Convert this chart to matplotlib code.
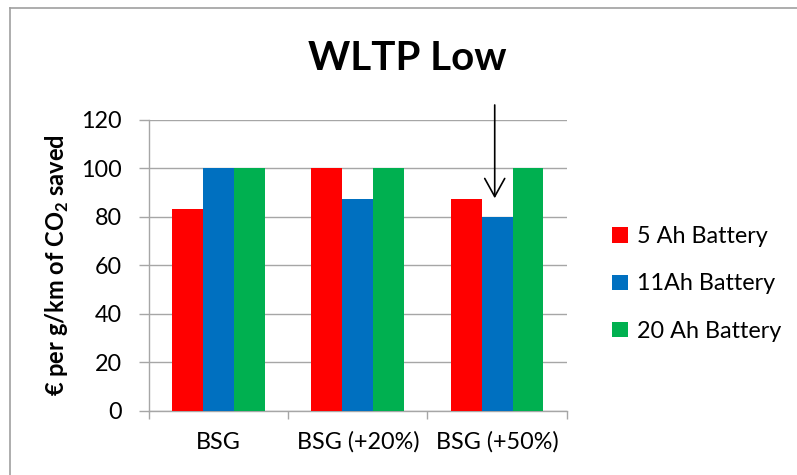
import matplotlib
matplotlib.use("Agg")
import matplotlib.pyplot as plt
import numpy as np
from matplotlib.lines import Line2D

# Cost-effectiveness values per configuration
categories = ["BSG", "BSG (+20%)", "BSG (+50%)"]
series_names = ["5 Ah Battery", "11Ah Battery", "20 Ah Battery"]
battery_5ah = [83.3, 100, 87.5]
battery_11ah = [100, 87.5, 80]
battery_20ah = [100, 100, 100]
y_ticks = [0, 20, 40, 60, 80, 100, 120]

colors = ["#FF0000", "#0070C0", "#00B050"]
font = ["Lato", "DejaVu Sans"]
plt.rcParams["font.family"] = font

W, H = 797, 475
fig = plt.figure(figsize=(W / 100, H / 100), dpi=100)
fig.patch.set_facecolor("white")

ax = fig.add_axes([149 / W, 1 - 410.7 / H, (566.7 - 149) / W, (410.7 - 120) / H])

x = np.arange(len(categories))
bw = 0.222
for i, (vals, name, c) in enumerate(zip([battery_5ah, battery_11ah, battery_20ah],
                                         series_names, colors)):
    ax.bar(x + (i - 1) * bw, vals, width=bw, color=c, label=name, zorder=3,
           linewidth=0)

ax.set_xlim(-0.5, len(categories) - 0.5)
ax.set_ylim(0, 120)
ax.set_yticks(y_ticks)
ax.yaxis.grid(True, color="#a6a6a6", linewidth=1.0, zorder=0)
ax.set_axisbelow(True)

grey = "#a6a6a6"
for s in ["top", "right"]:
    ax.spines[s].set_visible(False)
for s in ["left", "bottom"]:
    ax.spines[s].set_color(grey)
    ax.spines[s].set_linewidth(1.0)

fs = 16.8
ax.tick_params(axis="y", length=7.2, width=1.0, color=grey, pad=12.5,
               labelsize=fs, labelcolor="black")
ax.set_xticks(x)
ax.set_xticklabels(categories)
ax.set_xticks(np.arange(-0.5, len(categories)), minor=True)
ax.tick_params(axis="x", which="major", length=0, pad=15, labelsize=fs,
               labelcolor="black")
ax.tick_params(axis="x", which="minor", length=6, width=1.0, color=grey)

ax.set_ylabel("€ per g/km of CO$_\\mathregular{2}$ saved", fontsize=17,
              fontweight="bold", labelpad=7)

fig.text(407 / W, 1 - 58 / H, "WLTP Low", ha="center", va="center",
         fontsize=29, fontweight="bold")

# Arrow pointing at the 11Ah bar in the last group
ax.annotate("", xy=(1.983, 87.7), xytext=(1.983, 126.2),
            annotation_clip=False,
            arrowprops=dict(arrowstyle="->, head_length=1.3, head_width=0.72",
                            color="black", linewidth=1.2, shrinkA=0, shrinkB=0))

leg = ax.legend(loc="center left", bbox_to_anchor=(603 / W, 1 - 284 / H),
                bbox_transform=fig.transFigure, frameon=False, fontsize=fs,
                handlelength=0.65, handleheight=0.65, handletextpad=0.4,
                labelspacing=1.12, borderaxespad=0)

# Outer chart-area border
fig.add_artist(Line2D([9.5 / W, 9.5 / W], [0, 1 - 7.5 / H],
                      transform=fig.transFigure, color="#a0a0a0", linewidth=1.2))
fig.add_artist(Line2D([9.5 / W, 1], [1 - 7.5 / H, 1 - 7.5 / H],
                      transform=fig.transFigure, color="#a0a0a0", linewidth=1.2))

fig.savefig("out.png", dpi=100, facecolor="white")
